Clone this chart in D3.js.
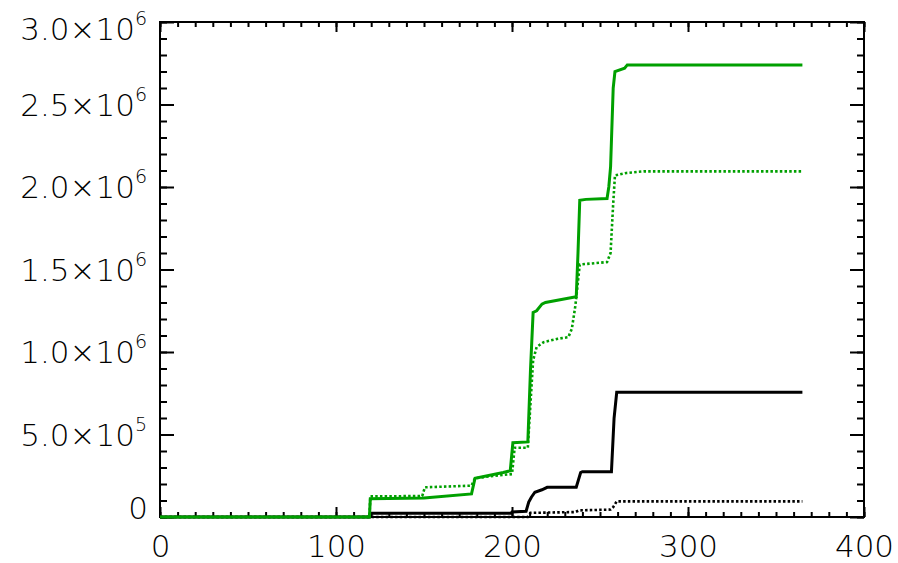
<!DOCTYPE html>
<html>
<head>
<meta charset="utf-8">
<script src="https://cdn.jsdelivr.net/npm/d3@7"></script>
<style>
  body { margin: 0; background: #fff; }
  text { font-family: "DejaVu Sans", sans-serif; font-weight: 200; fill: #000; }
</style>
</head>
<body>
<div id="chart"></div>
<script>
// cumulative values, day of year vs. total
const greenSolidDays = [0, 119, 119.5, 150, 177, 179, 195, 199, 200.5, 209, 210.5, 212, 214, 217, 219, 236.5, 237.5, 238.5, 242, 254, 255, 256, 257.5, 258.5, 264, 265.5, 365];
const greenSolidVals = [0, 0, 1.1e5, 1.15e5, 1.4e5, 2.35e5, 2.7e5, 2.8e5, 4.5e5, 4.55e5, 8.9e5, 1.24e6, 1.25e6, 1.29e6, 1.30e6, 1.335e6, 1.6e6, 1.92e6, 1.925e6, 1.93e6, 2.0e6, 2.12e6, 2.6e6, 2.70e6, 2.72e6, 2.74e6, 2.74e6];

const greenDotDays = [0, 119, 119.5, 149, 150.5, 177, 179, 190, 200, 201.5, 209, 210, 212, 214, 218, 226, 232, 234, 236, 238.5, 254, 256, 257.5, 258.5, 265, 275, 365];
const greenDotVals = [0, 0, 1.25e5, 1.27e5, 1.8e5, 1.9e5, 2.35e5, 2.5e5, 2.6e5, 4.2e5, 4.2e5, 6.0e5, 9.5e5, 1.03e6, 1.06e6, 1.08e6, 1.09e6, 1.14e6, 1.28e6, 1.53e6, 1.545e6, 1.6e6, 1.9e6, 2.07e6, 2.085e6, 2.095e6, 2.095e6];

const blackSolidDays = [0, 119, 119.5, 199.5, 200, 208, 209.5, 211, 213, 217, 220, 236.5, 239, 240, 256.5, 258, 259.5, 365];
const blackSolidVals = [0, 0, 2.2e4, 2.2e4, 3.0e4, 3.5e4, 9.0e4, 1.2e5, 1.5e5, 1.65e5, 1.8e5, 1.8e5, 2.7e5, 2.75e5, 2.75e5, 6.0e5, 7.56e5, 7.56e5];

const blackDotDays = [0, 209, 210.5, 236, 238, 256, 257.5, 259.5, 365];
const blackDotVals = [0, 0, 2.5e4, 3.0e4, 4.0e4, 4.5e4, 6.0e4, 9.5e4, 9.5e4];

const xTicks = [0, 100, 200, 300, 400];
const yTicks = [0, 5e5, 1e6, 1.5e6, 2e6, 2.5e6, 3e6];
const yTickMantissa = ["0", "5.0×10", "1.0×10", "1.5×10", "2.0×10", "2.5×10", "3.0×10"];
const yTickExponent = ["", "5", "6", "6", "6", "6", "6"];

const W = 898, H = 563;
const margin = {top: 22, right: 34, bottom: 46, left: 160};
const width = W - margin.left - margin.right,
      height = H - margin.top - margin.bottom;

const svg = d3.select('#chart')
    .append('svg')
    .attr('width', W)
    .attr('height', H);

const g = svg.append('g')
    .attr('transform', `translate(${margin.left},${margin.top})`);

const x = d3.scaleLinear().domain([0, 400]).range([0, width]);
const y = d3.scaleLinear().domain([0, 3e6]).range([height, 0]);

const xMinor = d3.range(0, 401, 10);
const yMinor = d3.range(0, 3e6 + 1, 1e5);

function styleAxis(sel) {
  sel.select('.domain').remove();
  sel.selectAll('line').attr('stroke', '#000').attr('stroke-width', 2);
}

// minor ticks
g.append('g').attr('transform', `translate(0,${height})`)
    .call(d3.axisBottom(x).tickValues(xMinor).tickSize(-5).tickFormat(''))
    .call(styleAxis);
g.append('g')
    .call(d3.axisTop(x).tickValues(xMinor).tickSize(-5).tickFormat(''))
    .call(styleAxis);
g.append('g')
    .call(d3.axisLeft(y).tickValues(yMinor).tickSize(-7).tickFormat(''))
    .call(styleAxis);
g.append('g').attr('transform', `translate(${width},0)`)
    .call(d3.axisRight(y).tickValues(yMinor).tickSize(-7).tickFormat(''))
    .call(styleAxis);

// major ticks
const xAxis = g.append('g').attr('transform', `translate(0,${height})`)
    .call(d3.axisBottom(x).tickValues(xTicks).tickSize(-10).tickPadding(18).tickFormat(d3.format('d')))
    .call(styleAxis);
xAxis.selectAll('text')
    .style('font-size', '31px')
    .style('font-family', '"DejaVu Sans", sans-serif')
    .style('font-weight', 200)
    .attr('fill', '#000');
g.append('g')
    .call(d3.axisTop(x).tickValues(xTicks).tickSize(-10).tickFormat(''))
    .call(styleAxis);
g.append('g')
    .call(d3.axisLeft(y).tickValues(yTicks).tickSize(-14).tickFormat(''))
    .call(styleAxis);
g.append('g').attr('transform', `translate(${width},0)`)
    .call(d3.axisRight(y).tickValues(yTicks).tickSize(-14).tickFormat(''))
    .call(styleAxis);

// y labels with superscript exponents
const yLab = g.append('g');
yTicks.forEach((v, i) => {
  const cy = Math.max(7, Math.min(y(v), height - 9.5));
  const t = yLab.append('text')
      .attr('x', yTickExponent[i] ? -13 : -12)
      .attr('y', cy + 11)
      .attr('text-anchor', 'end')
      .style('font-size', '31px');
  t.append('tspan').text(yTickMantissa[i]);
  if (yTickExponent[i]) {
    t.append('tspan').attr('dy', -15).style('font-size', '19px').text(yTickExponent[i]);
  }
});

// frame
g.append('rect')
    .attr('width', width).attr('height', height)
    .attr('fill', 'none').attr('stroke', '#000').attr('stroke-width', 2);

const line = d3.line().x(d => x(d[0])).y(d => y(d[1]));
const series = [
  {days: blackDotDays, vals: blackDotVals, color: '#000', dash: '2.5,2.2', w: 2.6},
  {days: blackSolidDays, vals: blackSolidVals, color: '#000', dash: null, w: 3},
  {days: greenDotDays, vals: greenDotVals, color: '#00a000', dash: '2.5,2.2', w: 2.6},
  {days: greenSolidDays, vals: greenSolidVals, color: '#00a000', dash: null, w: 3}
];
series.forEach(s => {
  g.append('path')
      .datum(s.days.map((d, i) => [d, s.vals[i]]))
      .attr('fill', 'none')
      .attr('stroke', s.color)
      .attr('stroke-width', s.w)
      .attr('stroke-dasharray', s.dash)
      .attr('d', line);
});
</script>
</body>
</html>
